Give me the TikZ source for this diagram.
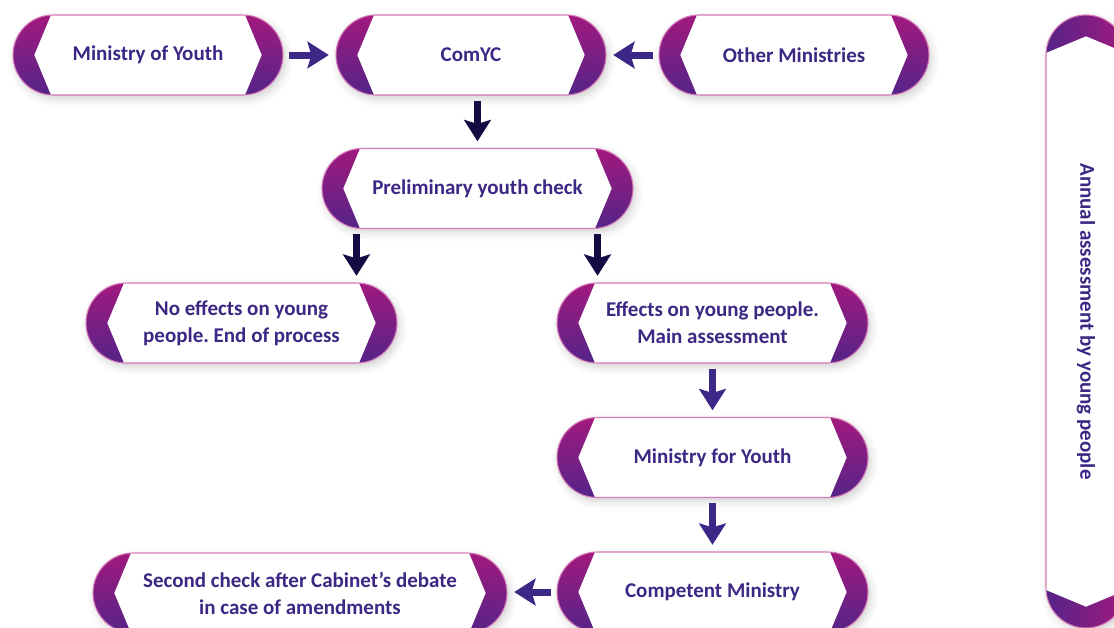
\documentclass[tikz,border=0pt]{standalone}
\usepackage{fontspec}
\setmainfont{Carlito}
\frenchspacing
\usetikzlibrary{arrows.meta,shadows.blur}
\definecolor{ymagenta}{RGB}{162,25,126}
\definecolor{ypurple}{RGB}{84,36,136}
\definecolor{ypink}{RGB}{214,122,184}
\definecolor{ytext}{RGB}{60,40,132}
\definecolor{yarrow}{RGB}{62,40,135}
\definecolor{ydark}{RGB}{22,10,66}
\tikzset{
 pill/.style={rectangle, rounded corners=30pt, minimum height=60pt, minimum width=233.25pt,
  top color=ymagenta, bottom color=ypurple, draw=ypink, line width=0.8pt,
  text=ytext, font=\fontsize{15.75}{20.25}\selectfont\bfseries, align=center,
  blur shadow={shadow xshift=2pt, shadow yshift=-3pt, shadow blur radius=6pt, shadow opacity=18},
  path picture={\fill[white, sharp corners] ([xshift=28.5pt]path picture bounding box.north west)
   -- ([xshift=-28.5pt]path picture bounding box.north east)
   -- ([xshift=-16pt]path picture bounding box.east)
   -- ([xshift=-28.5pt]path picture bounding box.south east)
   -- ([xshift=28.5pt]path picture bounding box.south west)
   -- ([xshift=16pt]path picture bounding box.west) -- cycle;}},
 shortpill/.style={pill, minimum width=202.5pt},
 widepill/.style={pill, minimum width=310.5pt},
 sidebar/.style={rectangle, rounded corners=30pt, minimum width=60pt, minimum height=459.75pt,
  left color=ypurple, right color=ymagenta, draw=ypink, line width=0.8pt,
  text=ytext, font=\fontsize{15.75}{20.25}\selectfont\bfseries,
  blur shadow={shadow xshift=2pt, shadow yshift=-3pt, shadow blur radius=6pt, shadow opacity=18},
  path picture={\fill[white, sharp corners] ([yshift=-28.5pt]path picture bounding box.north west)
   -- ([yshift=-16pt]path picture bounding box.north)
   -- ([yshift=-28.5pt]path picture bounding box.north east)
   -- ([yshift=28.5pt]path picture bounding box.south east)
   -- ([yshift=16pt]path picture bounding box.south)
   -- ([yshift=28.5pt]path picture bounding box.south west) -- cycle;}},
 flow/.style={yarrow, line width=5.25pt, -{Stealth[length=16pt,width=20pt,inset=3pt]},
  shorten <=4pt, shorten >=5pt},
 flowdark/.style={flow, ydark}
}
\begin{document}
\begin{tikzpicture}[x=0.75pt,y=-0.75pt]
 \useasboundingbox (0,0) rectangle (1114,628);
 % nodes
 \node[shortpill] (moy) at (148,55) {Ministry of Youth};
 \node[shortpill] (comyc) at (471,55) {ComYC};
 \node[shortpill] (other) at (794,55) {Other Ministries};
 \node[pill] (prelim) at (477.5,188.5) {Preliminary youth check};
 \node[pill] (noeff) at (241.5,323) {No effects on young\\people. End of process};
 \node[pill] (effects) at (712.5,323) {Effects on young people.\\Main assessment};
 \node[pill] (mfy) at (712.5,457.5) {Ministry for Youth};
 \node[pill] (compmin) at (712.5,592) {Competent Ministry};
 \node[widepill] (second) at (300,593) {Second check after Cabinet’s debate\\in case of amendments};
 \node[sidebar] (annual) at (1086,321.5) {\rotatebox{-90}{Annual assessment by young people}};
 % arrows
 \coordinate (lsplit) at ([xshift=26.25pt]prelim.south west);
 \coordinate (rsplit) at ([xshift=-27pt]prelim.south east);
 \draw[flow] (moy) -- (comyc);
 \draw[flow] (other) -- (comyc);
 \draw[flowdark] (comyc.south -| prelim.north) -- (prelim.north);
 \draw[flowdark] (lsplit) -- (lsplit |- noeff.north);
 \draw[flowdark] (rsplit) -- (rsplit |- effects.north);
 \draw[flow] (effects) -- (mfy);
 \draw[flow] (mfy) -- (compmin);
 \draw[flow] (compmin.west) -- (compmin.west -| second.east);
\end{tikzpicture}
\end{document}
